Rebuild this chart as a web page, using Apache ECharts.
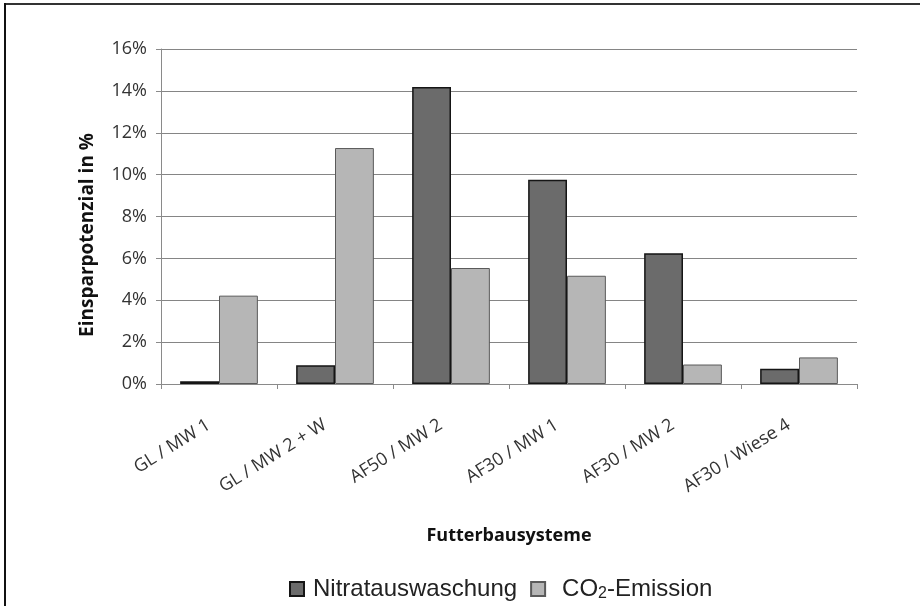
<!DOCTYPE html>
<html>
<head>
<meta charset="utf-8">
<script src="https://cdn.jsdelivr.net/npm/echarts@6/dist/echarts.min.js"></script>
<style>html,body{margin:0;padding:0;background:#fff}#c{width:920px;height:606px}</style>
</head>
<body>
<div id="c"></div>
<script>
const categories = ['GL / MW 1', 'GL / MW 2 + W', 'AF50 / MW 2', 'AF30 / MW 1', 'AF30 / MW 2', 'AF30 / Wiese 4'];
const nitrat = [0.13, 0.89, 14.19, 9.76, 6.25, 0.73];
const co2 = [4.22, 11.27, 5.54, 5.17, 0.93, 1.27];
const yTicks = [0, 2, 4, 6, 8, 10, 12, 14, 16];
const seriesNames = ['Nitratauswaschung', 'CO2-Emission'];
const yTitle = 'Einsparpotenzial in %';
const xTitle = 'Futterbausysteme';

const chart = echarts.init(document.getElementById('c'), null, {renderer: 'canvas'});
const tickFont = '"Open Sans", "Liberation Sans", sans-serif';
const legFont = '"Liberation Sans", Arial, sans-serif';
chart.setOption({
  animation: false,
  backgroundColor: '#ffffff',
  grid: {left: 161, right: 63, top: 49, bottom: 222, containLabel: false},
  legend: {
    left: 284, top: 572,
    itemWidth: 14, itemHeight: 14, itemGap: 13,
    icon: 'rect',
    textStyle: {
      fontFamily: legFont, fontSize: 24, color: '#222',
      rich: {
        a: {fontFamily: legFont, fontSize: 24, color: '#222'},
        sp: {width: 4},
        sub: {fontFamily: legFont, fontSize: 16, color: '#222', padding: [10, 0, 0, 0]}
      }
    },
    formatter: function (name) {
      if (name === seriesNames[1]) return '{sp|}{sp|}{sp|}{a|CO}{sub|2}{a|-Emission}';
      return '{sp|}{a|' + name + '}';
    },
    data: seriesNames
  },
  xAxis: {
    type: 'category',
    data: categories,
    name: xTitle,
    nameLocation: 'middle',
    nameGap: 143,
    nameTextStyle: {fontFamily: tickFont, fontWeight: 'bold', fontSize: 18, color: '#111'},
    axisLine: {lineStyle: {color: '#8a8a8a', width: 1}},
    axisTick: {show: true, length: 5, lineStyle: {color: '#8a8a8a'}},
    axisLabel: {
      rotate: 32, margin: 33, interval: 0,
      padding: [0, 12, 0, 0],
      fontFamily: tickFont, fontSize: 18, color: '#333'
    },
    splitLine: {show: false}
  },
  yAxis: {
    type: 'value',
    min: 0, max: 16, interval: 2,
    axisLine: {show: true, lineStyle: {color: '#8a8a8a', width: 1}},
    axisTick: {show: true, length: 5, lineStyle: {color: '#8a8a8a'}},
    axisLabel: {
      margin: 14, fontFamily: tickFont, fontSize: 18, color: '#333',
      formatter: function (v) { return yTicks.indexOf(v) >= 0 ? v + '%' : ''; }
    },
    splitLine: {show: true, lineStyle: {color: '#858585', width: 1}}
  },
  series: [
    {
      name: seriesNames[0], type: 'bar', data: nitrat,
      barGap: '0%', barCategoryGap: '33%',
      itemStyle: {color: '#6b6b6b', borderColor: '#151515', borderWidth: 1.5}
    },
    {
      name: seriesNames[1], type: 'bar', data: co2,
      barGap: '0%', barCategoryGap: '33%',
      itemStyle: {color: '#b6b6b6', borderColor: '#5a5a5a', borderWidth: 1}
    }
  ],
  graphic: [
    {type: 'text', x: 88, y: 235, rotation: Math.PI / 2,
     style: {text: yTitle, fontFamily: tickFont, fontWeight: 'bold', fontSize: 19, fill: '#111', textAlign: 'center', textVerticalAlign: 'middle'}},
    {type: 'line', shape: {x1: 4, y1: 4, x2: 920, y2: 4}, style: {stroke: '#333', lineWidth: 2}},
    {type: 'line', shape: {x1: 5, y1: 3, x2: 5, y2: 606}, style: {stroke: '#111', lineWidth: 2}}
  ]
});
</script>
</body>
</html>
